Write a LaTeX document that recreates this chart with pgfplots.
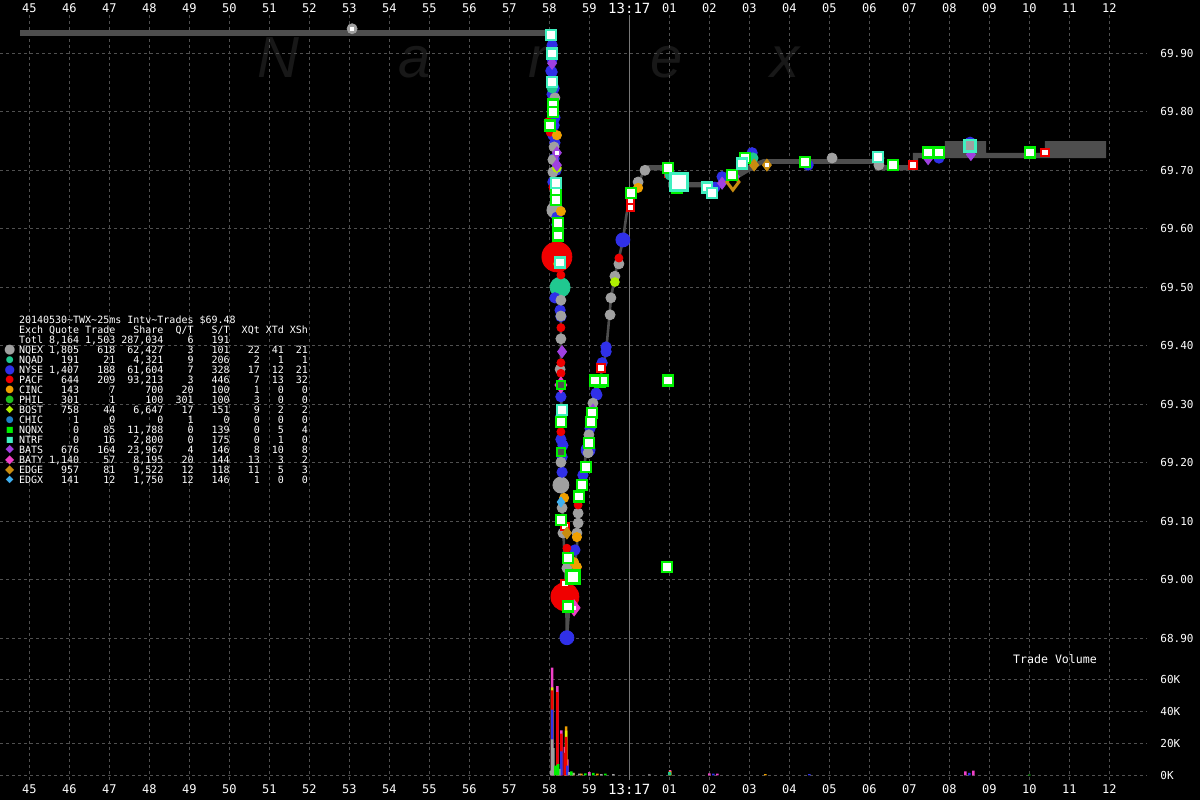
\documentclass[border=0pt]{standalone}
\usepackage{pgfplots}
\pgfplotsset{compat=1.18}
\usepackage{fontspec}
\setmainfont{DejaVu Sans Mono}
\newfontfamily\monof{DejaVu Sans Mono}
\newfontfamily\symf{DejaVu Sans}
\newfontfamily\wmf{Liberation Sans}
\definecolor{gridc}{RGB}{80,80,80}
\definecolor{solidc}{RGB}{120,120,120}
\definecolor{band}{RGB}{78,78,78}
\definecolor{wm}{RGB}{24,24,24}
\definecolor{nqex}{RGB}{160,160,160}
\definecolor{nqad}{RGB}{32,200,144}
\definecolor{nyse}{RGB}{48,48,232}
\definecolor{pacf}{RGB}{240,0,0}
\definecolor{cinc}{RGB}{240,160,0}
\definecolor{phil}{RGB}{32,192,32}
\definecolor{bost}{RGB}{176,240,0}
\definecolor{chic}{RGB}{32,128,200}
\definecolor{nqnx}{RGB}{0,240,0}
\definecolor{ntrf}{RGB}{64,240,192}
\definecolor{bats}{RGB}{160,64,224}
\definecolor{baty}{RGB}{240,64,200}
\definecolor{edge}{RGB}{200,140,16}
\definecolor{edgx}{RGB}{64,176,240}
\definecolor{yel}{RGB}{230,240,0}
\newlength\cw
\newcommand\tf{\monof\fontsize{5}{5}\selectfont}
\newcommand\rowtxt[9]{\settowidth\cw{0}\makebox[4\cw][l]{#1}\makebox[6\cw][r]{#2}\makebox[6\cw][r]{#3}\makebox[8\cw][r]{#4}\makebox[5\cw][r]{#5}\makebox[6\cw][r]{#6}\makebox[5\cw][r]{#7}\makebox[4\cw][r]{#8}\makebox[4\cw][r]{#9}}
\newcommand\lm[3]{\llap{\makebox[8.4pt]{\smash{\raisebox{\dimexpr1.8pt-0.5\height+0.5\depth\relax}{\textcolor{#1}{\fontsize{#2}{#2}\symf #3}}}}\hspace{0.4pt}}}
\pgfplotsset{
 nanex/.style={
  scale only axis, width=573.5pt,
  xmin=44.2675, xmax=72.9425,
  axis line style={draw=none},
  major tick length=0pt,
  xtick={45,...,72},
  xticklabels={45,46,47,48,49,50,51,52,53,54,55,56,57,58,59,{\fontsize{7}{7}\selectfont 13:17},01,02,03,04,05,06,07,08,09,10,11,12},
  grid=major,
  major grid style={draw=gridc, dash pattern=on 1.5pt off 1.5pt, line width=0.5pt},
  extra x ticks={60}, extra x tick labels={},
  extra x tick style={grid=major, major grid style={draw=solidc, solid, line width=0.6pt}},
  xticklabel style={font=\monof\fontsize{6}{6}\selectfont, text=white, inner sep=0pt, anchor=center},
  yticklabel style={font=\monof\fontsize{5.5}{5.5}\selectfont, text=white, inner sep=0pt, anchor=west, xshift=6.5pt},
  yticklabel pos=right,
  clip=true,
 }
}
\begin{document}
\begin{tikzpicture}
\useasboundingbox (0,0) rectangle (600pt,400pt);
\fill[black] (0,0) rectangle (600pt,400pt);
% watermark
\begin{scope}[every node/.style={text=wm, font=\wmf\itshape\fontsize{29}{29}\selectfont, anchor=base, inner sep=0pt}]
\node at (139pt,361pt) {N};
\node at (207.5pt,361pt) {a};
\node at (272.5pt,361pt) {n};
\node at (333.5pt,361pt) {e};
\node at (392.5pt,361pt) {x};
\end{scope}
% ---------------- price panel
\begin{axis}[nanex, at={(0pt,70pt)}, anchor=south west, height=322.5pt,
  ymin=68.8629, ymax=69.9655,
  xticklabel pos=upper, xticklabel style={yshift=3.5pt},
  ytick={68.9,69.0,69.1,69.2,69.3,69.4,69.5,69.6,69.7,69.8,69.9},
  yticklabels={68.90,69.00,69.10,69.20,69.30,69.40,69.50,69.60,69.70,69.80,69.90}]
% quote bands
\addplot[fill=band, draw=none] coordinates {(44.76,69.940)(58.07,69.940)(58.07,69.930)(44.76,69.930)};
\addplot[fill=band, draw=none] coordinates {(60.39,69.709)(60.97,69.709)(60.97,69.680)(62.27,69.680)(62.64,69.700)(63.34,69.719)(66.14,69.719)(66.14,69.709)(67.09,69.709)(67.09,69.730)(67.89,69.730)(67.89,69.750)(68.92,69.750)(68.92,69.730)(70.39,69.730)(70.39,69.750)(71.92,69.750)(71.92,69.721)(67.22,69.721)(67.22,69.700)(66.14,69.700)(66.14,69.711)(63.34,69.711)(62.64,69.683)(62.27,69.671)(60.97,69.671)(60.97,69.700)(60.39,69.700)};
% price path
\addplot[band, line width=1.3pt] coordinates {(58.07,69.935)(58.09,69.80)(58.14,69.70)(58.22,69.60)(58.29,69.48)(58.29,69.35)(58.32,69.18)(58.34,69.10)(58.42,68.98)(58.44,68.90)(58.55,69.00)(58.69,69.05)(58.72,69.12)(58.84,69.18)(59.02,69.26)(59.19,69.32)(59.42,69.39)(59.54,69.48)(59.64,69.52)(59.74,69.55)(59.84,69.58)(59.92,69.62)(60.02,69.66)(60.22,69.68)(60.39,69.70)(60.52,69.705)};
% big markers
\addplot[only marks, mark=*, mark size=7.5pt, color=pacf] coordinates {(58.19,69.552)};
\addplot[only marks, mark=*, mark size=7pt, color=pacf] coordinates {(58.39,68.971)};
\addplot[only marks, mark=*, mark size=5pt, color=nqad] coordinates {(58.27,69.500)};
\addplot[only marks, mark=*, mark size=4pt, color=nqex] coordinates {(58.14,69.632)(58.29,69.162)};
\addplot[only marks, mark=*, mark size=3.5pt, color=nyse] coordinates {(58.44,68.901)(58.97,69.222)(59.84,69.581)};
% NYSE
\addplot[only marks, mark=*, mark size=2.6pt, color=nyse] coordinates {(58.07,69.914)(58.07,69.868)(58.12,69.777)(58.14,69.747)(58.19,69.607)(58.14,69.482)(58.27,69.461)(58.29,69.313)(58.34,69.230)(58.32,69.184)(59.19,69.316)(59.02,69.259)(58.84,69.179)(58.64,69.051)(59.42,69.398)(59.42,69.390)(59.32,69.371)(59.17,69.319)(62.14,69.671)(62.32,69.689)(63.07,69.730)(64.47,69.709)(67.74,69.721)(68.52,69.748)(58.07,69.89)(58.07,69.83)(58.14,69.79)(58.09,69.68)(58.29,69.28)(58.12,69.84)(58.09,69.76)(58.17,69.70)(58.19,69.62)(58.29,69.24)(58.32,69.21)(58.29,69.45)(58.04,69.87)(58.12,69.72)};
% NQEX
\addplot[only marks, mark=*, mark size=2.5pt, color=nqex] coordinates {(58.14,69.824)(58.09,69.718)(58.09,69.697)(58.29,69.478)(58.29,69.451)(58.29,69.412)(58.29,69.201)(58.32,69.123)(58.44,69.020)(59.09,69.302)(58.99,69.248)(58.97,69.217)(58.72,69.114)(58.72,69.097)(58.69,69.080)(59.74,69.540)(59.64,69.519)(59.54,69.482)(59.52,69.453)(60.22,69.680)(60.39,69.700)(66.24,69.721)(66.24,69.709)(68.52,69.742)(58.07,69.800)(58.12,69.740)(58.34,69.08)(58.27,69.36)(53.07,69.942)(65.07,69.721)};
\addplot[only marks, mark=square*, mark size=0.8pt, color=white] coordinates {(53.07,69.942)};
% PACF
\addplot[only marks, mark=*, mark size=2pt, color=pacf] coordinates {(57.97,69.783)(58.09,69.671)(58.29,69.521)(58.29,69.431)(58.29,69.371)(58.29,69.353)(58.29,69.253)(58.44,69.054)(58.72,69.128)(59.74,69.550)(58.02,69.765)};
\addplot[only marks, mark=square*, mark size=1.8pt, mark options={draw=pacf, fill=white, line width=1pt}] coordinates {(60.02,69.649)(60.02,69.636)(67.09,69.709)(70.39,69.730)(58.39,69.091)(58.39,68.993)(59.29,69.362)(60.97,69.695)};
% CINC
\addplot[only marks, mark=*, mark size=2.3pt, color=cinc] coordinates {(58.19,69.760)(58.29,69.630)(58.37,69.140)(58.69,69.073)(58.69,69.022)(60.22,69.670)(58.62,69.03)};
% BOST, EDGX
\addplot[only marks, mark=*, mark size=2.2pt, color=bost] coordinates {(58.19,69.704)(59.64,69.509)(58.22,69.54)};
\addplot[only marks, mark=diamond*, mark size=2.5pt, color=edgx] coordinates {(58.29,69.133)};
% NQAD
\addplot[only marks, mark=*, mark size=2.6pt, color=nqad] coordinates {(58.07,69.841)(61.02,69.692)(63.09,69.721)};
% BATS / BATY / EDGE
\addplot[only marks, mark=diamond*, mark size=3pt, color=bats] coordinates {(58.07,69.883)(58.19,69.730)(58.19,69.709)(58.32,69.390)(59.09,69.290)(62.32,69.678)(62.64,69.689)(68.54,69.727)(67.47,69.72)};
\addplot[only marks, mark=diamond*, mark size=4pt, color=baty] coordinates {(58.29,69.333)(58.62,68.952)};
\addplot[only marks, mark=diamond*, mark size=4pt, mark options={draw=edge, fill=none, line width=1.5pt}] coordinates {(62.59,69.680)};
\addplot[only marks, mark=diamond*, mark size=3pt, color=edge] coordinates {(58.44,69.080)(63.12,69.709)(63.44,69.709)};
\addplot[only marks, mark=square*, mark size=0.8pt, color=white] coordinates {(58.19,69.730)(58.62,68.952)(63.44,69.709)};
% NQNX
\addplot[only marks, mark=square*, mark size=2.5pt, mark options={draw=nqnx, fill=white, line width=1.3pt}] coordinates {(58.09,69.812)(58.09,69.800)(58.02,69.777)(58.17,69.661)(58.17,69.649)(58.22,69.610)(58.22,69.589)(58.29,69.270)(58.29,69.102)(58.47,69.037)(58.47,68.954)(59.27,69.338)(59.07,69.285)(59.04,69.270)(58.99,69.234)(58.92,69.193)(58.82,69.162)(58.74,69.142)(59.34,69.341)(59.14,69.341)(60.04,69.661)(60.97,69.704)(61.19,69.670)(62.57,69.692)(62.89,69.721)(64.39,69.714)(66.59,69.709)(67.47,69.730)(67.74,69.730)(70.02,69.730)(60.97,69.341)(60.94,69.022)};
\addplot[only marks, mark=square*, mark size=3.2pt, mark options={draw=nqnx, fill=white, line width=1.3pt}] coordinates {(58.59,69.005)};
\addplot[only marks, mark=square*, mark size=2pt, mark options={draw=nqnx, fill=gridc, line width=1pt}] coordinates {(58.29,69.333)(58.29,69.218)};
% NTRF
\addplot[only marks, mark=square*, mark size=2.5pt, mark options={draw=ntrf, fill=white, line width=1.3pt}] coordinates {(58.04,69.931)(58.07,69.900)(58.07,69.851)(58.17,69.678)(58.27,69.542)(58.32,69.290)(61.94,69.671)(62.07,69.661)(62.82,69.712)(66.22,69.723)};
\addplot[only marks, mark=square*, mark size=2.8pt, mark options={draw=ntrf, fill=nqex, line width=1.3pt}] coordinates {(68.52,69.742)};
\addplot[only marks, mark=square*, mark size=4.3pt, mark options={draw=ntrf, fill=white, line width=1.5pt}] coordinates {(61.24,69.680)};
\end{axis}
% ---------------- volume panel
\begin{axis}[nanex, at={(0pt,10pt)}, anchor=south west, height=60pt,
  ymin=-2.94, ymax=72.06,
  xticklabel pos=lower, xticklabel style={yshift=-4.5pt},
  ytick={0,20,40,60}, yticklabels={0K,20K,40K,60K}]
\pgfplotsset{every axis plot/.append style={ybar, bar width=1.3pt, bar shift=0pt, draw=none}}
\addplot[fill=baty] coordinates {(58.07,67.3)(58.2,55.8)(58.3,28.1)(58.45,10)(58.39,17.7)(59.0,2.0)(61.02,3.3)(62.0,1.2)(62.2,1)(68.4,2.5)(68.6,3)};
\addplot[fill=cinc] coordinates {(58.42,30.6)(58.6,1.5)(58.8,1)(59.2,1)(63.4,0.8)(61.02,2.6)};
\addplot[fill=yel] coordinates {(58.07,55)(58.42,28)};
\addplot[fill=pacf] coordinates {(58.07,53)(58.2,52)(58.3,26)(58.42,24)(58.39,14)};
\addplot[fill=nyse] coordinates {(58.07,41)(58.3,15)(58.45,6)(62.1,1)(64.5,0.8)(68.5,1.5)};
\addplot[fill=nqex] coordinates {(58.07,22.5)(58.05,3)(58.1,17)(58.2,6)(58.25,4)(58.5,2)(58.6,1.5)(58.75,1)(59.0,1)(59.3,0.8)(59.6,0.8)(60.5,0.6)};
\addplot[fill=nqnx] coordinates {(58.15,6)(58.22,7)(58.55,2.5)(58.9,1.2)(59.1,1.5)(59.4,1)(61.02,1.2)(70.0,0.4)};
\addplot[fill=nqad] coordinates {(61.0,2)};
\end{axis}
\node[text=white, font=\monof\fontsize{5.8}{6}\selectfont, inner sep=0pt] at (527.5pt,70.5pt) {Trade Volume};
% ---------------- statistics table
\begin{scope}[every node/.style={anchor=base west, inner sep=0pt, text=white, font=\tf}]
\node at (9.3pt,238.2pt) {20140530\textasciitilde TWX\textasciitilde 25ms Intv\textasciitilde Trades \$69.48};
\node at (9.3pt,233.2pt) {\rowtxt{Exch}{Quote}{Trade}{Share}{Q/T}{S/T}{XQt}{XTd}{XSh}};
\node at (9.3pt,228.2pt) {\rowtxt{Totl}{8,164}{1,503}{287,034}{6}{191}{}{}{}};
\node at (9.3pt,223.2pt) {\lm{nqex}{6.5}{●}\rowtxt{NQEX}{1,805}{618}{62,427}{3}{101}{22}{41}{21}};
\node at (9.3pt,218.2pt) {\lm{nqad}{4.5}{●}\rowtxt{NQAD}{191}{21}{4,321}{9}{206}{2}{1}{1}};
\node at (9.3pt,213.2pt) {\lm{nyse}{6}{●}\rowtxt{NYSE}{1,407}{188}{61,604}{7}{328}{17}{12}{21}};
\node at (9.3pt,208.2pt) {\lm{pacf}{5}{●}\rowtxt{PACF}{644}{209}{93,213}{3}{446}{7}{13}{32}};
\node at (9.3pt,203.2pt) {\lm{cinc}{5}{●}\rowtxt{CINC}{143}{7}{700}{20}{100}{1}{0}{0}};
\node at (9.3pt,198.2pt) {\lm{phil}{5}{●}\rowtxt{PHIL}{301}{1}{100}{301}{100}{3}{0}{0}};
\node at (9.3pt,193.2pt) {\lm{bost}{5}{◆}\rowtxt{BOST}{758}{44}{6,647}{17}{151}{9}{2}{2}};
\node at (9.3pt,188.2pt) {\lm{chic}{4.5}{●}\rowtxt{CHIC}{1}{0}{0}{1}{0}{0}{0}{0}};
\node at (9.3pt,183.2pt) {\lm{nqnx}{4}{■}\rowtxt{NQNX}{0}{85}{11,788}{0}{139}{0}{5}{4}};
\node at (9.3pt,178.2pt) {\lm{ntrf}{4}{■}\rowtxt{NTRF}{0}{16}{2,800}{0}{175}{0}{1}{0}};
\node at (9.3pt,173.2pt) {\lm{bats}{5.5}{◆}\rowtxt{BATS}{676}{164}{23,967}{4}{146}{8}{10}{8}};
\node at (9.3pt,168.2pt) {\lm{baty}{6}{◆}\rowtxt{BATY}{1,140}{57}{8,195}{20}{144}{13}{3}{2}};
\node at (9.3pt,163.2pt) {\lm{edge}{6}{◆}\rowtxt{EDGE}{957}{81}{9,522}{12}{118}{11}{5}{3}};
\node at (9.3pt,158.2pt) {\lm{edgx}{5}{◆}\rowtxt{EDGX}{141}{12}{1,750}{12}{146}{1}{0}{0}};
\end{scope}
\end{tikzpicture}
\end{document}
